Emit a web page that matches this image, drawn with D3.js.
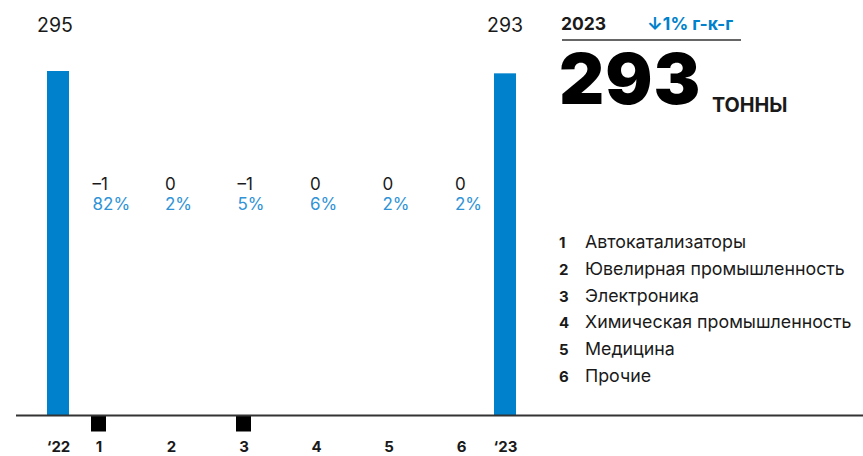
<!DOCTYPE html>
<html lang="ru">
<head>
<meta charset="utf-8">
<script src="https://cdn.jsdelivr.net/npm/d3@7/dist/d3.min.js"></script>
<style>
  html, body { margin: 0; padding: 0; background: #fff; }
  svg { display: block; font-family: Inter, "Noto Sans", sans-serif; }
</style>
</head>
<body>
<svg id="chart" width="863" height="456"></svg>
<script>
// Palladium demand bridge, 2022 → 2023 (tonnes)
const totalLabels = ["\u201822", "\u201823"];
const totalValues = [295, 293];
const stepLabels = ["1", "2", "3", "4", "5", "6"];
const stepDeltas = [-1, 0, -1, 0, 0, 0];
const stepShares = ["82%", "2%", "5%", "6%", "2%", "2%"];
const legendNames = [
  "Автокатализаторы",
  "Ювелирная промышленность",
  "Электроника",
  "Химическая промышленность",
  "Медицина",
  "Прочие"
];
const headlineYear = "2023";
const headlineChange = "\u21931% г-к-г";
const headlineValue = 293;
const headlineUnit = "ТОННЫ";

const BLUE = "#0081cb";
const LIGHT_BLUE = "#2f93d6";
const INK = "#1a1a1a";

const svg = d3.select("#chart");
const baseY = 415.5;

// vertical scale: tonnes → pixels
const y = d3.scaleLinear().domain([0, 295]).range([baseY, 71]);

// horizontal layout: the six contribution columns share a point scale,
// the two year totals sit just outside them
const xStep = d3.scalePoint().domain(stepLabels).range([98.5, 461]);
const allCats = [totalLabels[0], ...stepLabels, totalLabels[1]];
const x = d3.scaleOrdinal()
  .domain(allCats)
  .range([xStep("1") - 40.5, ...stepLabels.map(xStep), xStep("6") + 44]);

const totals = totalLabels.map((k, i) => ({ k, v: totalValues[i] }));
const steps = stepLabels.map((k, i) => ({ k, d: stepDeltas[i], s: stepShares[i] }));

// year total bars
const barW = 22;
svg.append("g").selectAll("rect")
  .data(totals).join("rect")
  .attr("x", d => x(d.k) - barW / 2)
  .attr("width", barW)
  .attr("y", d => y(d.v))
  .attr("height", d => baseY - y(d.v))
  .attr("fill", BLUE);

svg.append("g").selectAll("text")
  .data(totals).join("text")
  .attr("x", (d, i) => x(d.k) - (i === 0 ? 3 : 0))
  .attr("y", 31.5)
  .attr("text-anchor", "middle")
  .attr("font-size", 19.5)
  .attr("fill", INK)
  .text(d => d.v);

// markers for the categories that fell
const markW = 15, markH = 16;
svg.append("g").selectAll("rect")
  .data(steps.filter(d => d.d < 0)).join("rect")
  .attr("x", d => x(d.k) - markW / 2)
  .attr("y", baseY)
  .attr("width", markW)
  .attr("height", markH)
  .attr("fill", "#000");

// change and share labels
const lab = svg.append("g").selectAll("g")
  .data(steps).join("g")
  .attr("transform", d => `translate(${x(d.k) - 6},0)`);
lab.append("text")
  .attr("y", 190)
  .attr("font-size", 17)
  .attr("fill", INK)
  .text(d => d.d < 0 ? "\u2013" + Math.abs(d.d) : d.d);
lab.append("text")
  .attr("y", 209.5)
  .attr("font-size", 17)
  .attr("fill", LIGHT_BLUE)
  .text(d => d.s);

// baseline
svg.append("line")
  .attr("x1", 16).attr("x2", 863)
  .attr("y1", baseY).attr("y2", baseY)
  .attr("stroke", "#333").attr("stroke-width", 1.8);

// category axis
const axis = d3.axisBottom(x).tickSize(0).tickPadding(0);
const ax = svg.append("g")
  .attr("transform", `translate(0,${baseY})`)
  .call(axis);
ax.select(".domain").remove();
ax.selectAll("text")
  .attr("y", 36.5)
  .attr("dy", null)
  .attr("font-family", "Inter, sans-serif")
  .attr("font-size", 15)
  .attr("font-weight", 700)
  .attr("fill", INK);

// headline block
const head = svg.append("g");
head.append("text")
  .attr("x", 561).attr("y", 30)
  .attr("font-size", 17.5).attr("font-weight", 700).attr("fill", INK)
  .text(headlineYear);
head.append("text")
  .attr("x", 647).attr("y", 30)
  .attr("font-size", 17.5).attr("font-weight", 700).attr("fill", BLUE)
  .text(headlineChange);
head.append("line")
  .attr("x1", 562).attr("x2", 741)
  .attr("y1", 40).attr("y2", 40)
  .attr("stroke", "#333").attr("stroke-width", 1.5);
head.append("text")
  .attr("x", 559).attr("y", 104)
  .attr("font-size", 70).attr("font-weight", 900).attr("fill", "#000")
  .attr("letter-spacing", 1)
  .text(headlineValue);
head.append("text")
  .attr("x", 712).attr("y", 111.5)
  .attr("font-size", 19.8).attr("font-weight", 700).attr("fill", INK)
  .text(headlineUnit);

// legend
const leg = svg.append("g").selectAll("g")
  .data(legendNames).join("g")
  .attr("transform", (d, i) => `translate(0,${248.3 + i * 26.7})`);
leg.append("text")
  .attr("x", 559)
  .attr("font-size", 15).attr("font-weight", 700).attr("fill", INK)
  .text((d, i) => stepLabels[i]);
leg.append("text")
  .attr("x", 585)
  .attr("font-size", 17.8).attr("fill", INK)
  .text(d => d);
</script>
</body>
</html>
